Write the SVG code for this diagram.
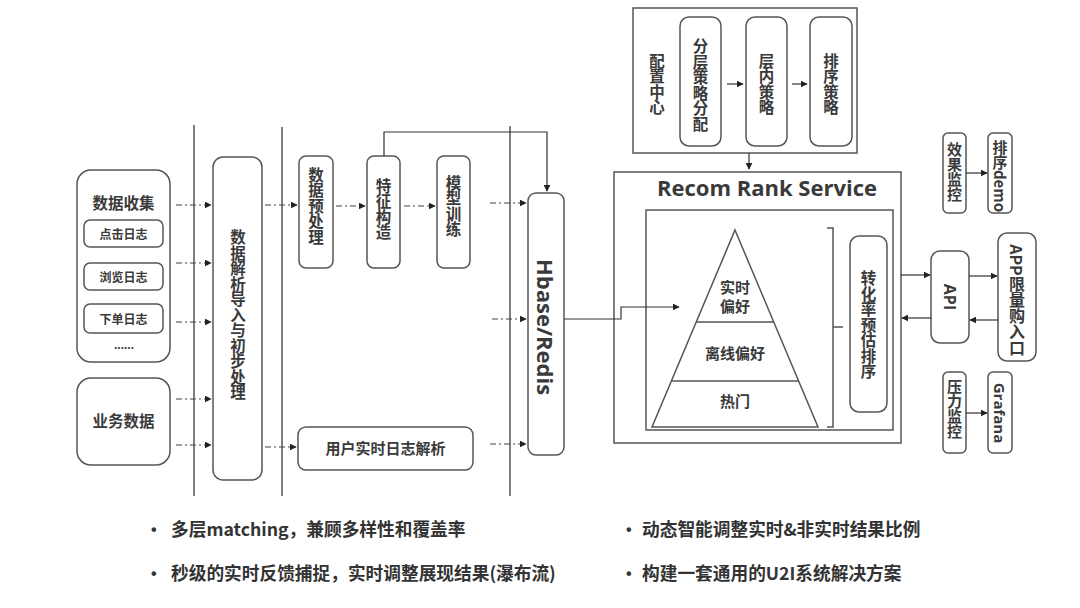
<svg xmlns="http://www.w3.org/2000/svg" width="1080" height="608" viewBox="0 0 1080 608">
<defs>
<marker id="ah" viewBox="0 0 10 10" refX="9" refY="5" markerWidth="7" markerHeight="7" markerUnits="userSpaceOnUse" orient="auto"><path d="M0,0 L10,5 L0,10 z" fill="#222"/></marker>
<style>
.box{fill:#fff;stroke:#555;stroke-width:1.5}
.plain{fill:none;stroke:#555;stroke-width:1.5}
.t{font-family:"Noto Sans CJK SC","Open Sans",sans-serif;font-weight:bold;fill:#3a3a3a;text-anchor:middle}
.v{writing-mode:vertical-rl}
.lat{font-family:"Open Sans","Noto Sans CJK SC",sans-serif;font-weight:bold;fill:#3a3a3a;text-anchor:middle;dominant-baseline:central}
.dd{fill:none;stroke:#444;stroke-width:1.2;stroke-dasharray:6 3 2 3;marker-end:url(#ah)}
.sl{fill:none;stroke:#333;stroke-width:1.2;marker-end:url(#ah)}
.ln{fill:none;stroke:#555;stroke-width:1.5}
.bul{font-family:"Noto Sans CJK SC","Open Sans",sans-serif;font-weight:bold;fill:#333;font-size:17.7px}
.dot{font-family:"Liberation Sans",sans-serif;font-weight:bold;fill:#333;font-size:16px}
</style>
</defs>
<rect width="1080" height="608" fill="#fff"/>

<g id="dividers">
<line class="ln" x1="194" y1="125" x2="194" y2="496"/>
<line class="ln" x1="282" y1="127" x2="282" y2="496"/>
<line class="ln" x1="510" y1="126" x2="510" y2="496"/>
</g>

<g id="data-collect">
<rect class="box" x="77" y="170" width="93" height="192" rx="14"/>
<text class="t" x="123.5" y="209" font-size="15.5">数据收集</text>
</g>
<g id="click-log">
<rect class="box" x="84" y="220" width="79" height="27" rx="6"/>
<text class="t" x="123.5" y="238.5" font-size="12">点击日志</text>
</g>
<g id="browse-log">
<rect class="box" x="84" y="263" width="79" height="27" rx="6"/>
<text class="t" x="123.5" y="281.5" font-size="12">浏览日志</text>
</g>
<g id="order-log">
<rect class="box" x="84" y="304" width="79" height="29" rx="6"/>
<text class="t" x="123.5" y="323.5" font-size="12">下单日志</text>
</g>
<g id="more-logs">
<text class="t" x="124" y="349" font-size="12" style="font-family:'Liberation Sans',sans-serif">......</text>
</g>
<g id="biz-data">
<rect class="box" x="77" y="378" width="93" height="87" rx="14"/>
<text class="t" x="123.5" y="427" font-size="15.5">业务数据</text>
</g>

<g id="parse">
<rect class="box" x="213" y="157" width="49" height="323" rx="10"/>
<text class="t v" x="238" y="315" font-size="15.5">数据解析导入与初步处理</text>
</g>

<g id="preprocess">
<rect class="box" x="299" y="156" width="34" height="112" rx="7"/>
<text class="t v" x="316" y="206" font-size="15.5">数据预处理</text>
</g>
<g id="feature">
<rect class="box" x="367" y="156" width="33" height="112" rx="7"/>
<text class="t v" x="383.5" y="209" font-size="15.5">特征构造</text>
</g>
<g id="train">
<rect class="box" x="437" y="156" width="33" height="112" rx="7"/>
<text class="t v" x="453.5" y="206" font-size="15.5">模型训练</text>
</g>
<g id="rt-parse">
<rect class="box" x="298" y="427" width="175" height="43" rx="8"/>
<text class="t" x="385.5" y="453.5" font-size="15">用户实时日志解析</text>
</g>

<g id="hbase">
<rect class="box" x="528" y="193" width="36" height="262" rx="8"/>
<text class="lat" x="546" y="327" font-size="22" transform="rotate(90 546 327)">Hbase/Redis</text>
</g>

<g id="config">
<rect class="plain" x="633" y="8" width="224" height="145"/>
<text class="t v" x="657" y="84" font-size="15.5">配置中心</text>
</g>
<g id="layer-alloc">
<rect class="box" x="680" y="17" width="41" height="129" rx="9"/>
<text class="t v" x="700.5" y="85" font-size="15.5">分层策略分配</text>
</g>
<g id="in-layer">
<rect class="box" x="746" y="17" width="41" height="129" rx="9"/>
<text class="t v" x="766.5" y="84" font-size="15.5">层内策略</text>
</g>
<g id="rank-strategy">
<rect class="box" x="810" y="17" width="42" height="129" rx="9"/>
<text class="t v" x="831" y="84" font-size="15.5">排序策略</text>
</g>

<g id="recom-rank">
<rect class="plain" x="614" y="172" width="287" height="271"/>
<text class="lat" x="767" y="187" font-size="22">Recom Rank Service</text>
<rect class="plain" x="646" y="210" width="247" height="220"/>
</g>
<g id="pyramid">
<polygon class="plain" points="735,230 818,427 652,427"/>
<line class="ln" x1="696" y1="322" x2="774" y2="322"/>
<line class="ln" x1="671" y1="381" x2="799" y2="381"/>
<text class="t" x="735" y="293" font-size="15">实时</text>
<text class="t" x="735" y="312" font-size="15">偏好</text>
<text class="t" x="735" y="359" font-size="15">离线偏好</text>
<text class="t" x="735" y="407" font-size="15">热门</text>
<path class="plain" d="M827 228 H833 V427 H827 M833 327 H843"/>
</g>
<g id="cvr-rank">
<rect class="box" x="850" y="236" width="37" height="176" rx="9"/>
<text class="t v" x="868.5" y="325" font-size="15.5">转化率预估排序</text>
</g>

<g id="effect-mon">
<rect class="box" x="943" y="133" width="23" height="80" rx="5"/>
<text class="t v" x="954.5" y="172" font-size="15">效果监控</text>
</g>
<g id="rank-demo">
<rect class="box" x="988" y="133" width="24" height="80" rx="5"/>
<text class="t v" x="1000" y="176" font-size="15">排序demo</text>
</g>
<g id="api">
<rect class="box" x="931" y="251" width="38" height="92" rx="9"/>
<text class="lat" x="950" y="297" font-size="16" transform="rotate(90 950 297)">API</text>
</g>
<g id="app">
<rect class="box" x="998" y="233" width="38" height="128" rx="9"/>
<text class="t v" x="1017" y="300" font-size="16">APP限量购入口</text>
</g>
<g id="stress-mon">
<rect class="box" x="943" y="372" width="23" height="81" rx="5"/>
<text class="t v" x="954.5" y="409" font-size="15">压力监控</text>
</g>
<g id="grafana">
<rect class="box" x="988" y="372" width="24" height="81" rx="5"/>
<text class="lat" x="1000" y="413" font-size="15" transform="rotate(90 1000 413)">Grafana</text>
</g>

<g id="connectors">
<path class="dd" d="M176 205 H211"/>
<path class="dd" d="M176 263 H211"/>
<path class="dd" d="M176 322 H211"/>
<path class="dd" d="M176 399 H211"/>
<path class="dd" d="M176 445 H211"/>
<path class="dd" d="M265 205 H297"/>
<path class="dd" d="M265 447 H296"/>
<path class="dd" d="M336 206 H365"/>
<path class="dd" d="M404 206 H435"/>
<path class="dd" d="M490 203 H526"/>
<path class="dd" d="M492 319 H526"/>
<path class="dd" d="M490 444 H526"/>
<path class="sl" d="M384 156 V132 H547 V191"/>
<path class="sl" d="M564 319 H621 V307 H679"/>
<path class="sl" d="M727 84 H743"/>
<path class="sl" d="M792 84 H807"/>
<path class="sl" d="M749 153 V169"/>
<path class="sl" d="M901 275 H930"/>
<path class="sl" d="M969 276 H997"/>
<path class="sl" d="M998 320 H970"/>
<path class="sl" d="M931 318 H902"/>
<path class="sl" d="M966 173 H987"/>
<path class="sl" d="M966 413 H987"/>
</g>

<g id="notes">
<text class="dot" x="151" y="535">•</text>
<text class="bul" x="171" y="536">多层matching，兼顾多样性和覆盖率</text>
<text class="dot" x="626" y="535">•</text>
<text class="bul" x="642" y="536">动态智能调整实时&amp;非实时结果比例</text>
<text class="dot" x="151" y="579">•</text>
<text class="bul" x="171" y="580">秒级的实时反馈捕捉，实时调整展现结果(瀑布流)</text>
<text class="dot" x="626" y="579">•</text>
<text class="bul" x="642" y="580">构建一套通用的U2I系统解决方案</text>
</g>
</svg>
